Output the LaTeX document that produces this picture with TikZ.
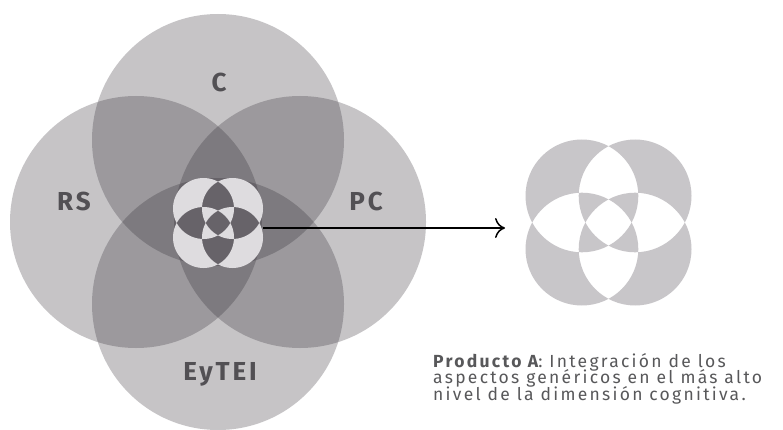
\documentclass[tikz,border=0pt]{standalone}
\usepackage{fontspec}
\setmainfont{Fira Sans}
\newfontfamily\captfont[LetterSpace=13]{Fira Sans}
\newfontfamily\lblfont[LetterSpace=11]{Fira Sans}
\usetikzlibrary{arrows.meta}

\definecolor{petal}{RGB}{45,40,48}
\definecolor{corelight}{RGB}{222,220,223}
\definecolor{prodgray}{RGB}{200,198,201}
\definecolor{lbltext}{RGB}{82,80,84}
\definecolor{capttext}{RGB}{88,88,90}

\tikzset{
  bigpetal/.style={fill=petal,fill opacity=0.27},
  dimlabel/.style={font=\lblfont\bfseries\fontsize{26}{26}\selectfont,text=lbltext,anchor=base,inner sep=0pt},
  capt/.style={font={\captfont\fontsize{17.5}{16.5}\selectfont\lineskiplimit=-20pt},text=capttext,anchor=base west,align=left,inner sep=0pt}
}

\begin{document}
\begin{tikzpicture}[x=1pt,y=1pt]
  \useasboundingbox (0,0) rectangle (783,429);
  \fill[white] (0,0) rectangle (783,429);

  % the four dimensions
  \fill[bigpetal] (218,289) circle (126);
  \fill[bigpetal] (218,125) circle (126);
  \fill[bigpetal] (136,207) circle (126);
  \fill[bigpetal] (300,207) circle (126);

  % core where all four meet
  \fill[corelight,even odd rule]
    (203.5,220.5) circle (30.5) (232.5,220.5) circle (30.5)
    (203.5,191.5) circle (30.5) (232.5,191.5) circle (30.5);

  % product A
  \fill[prodgray,even odd rule]
    (581.9,233.1) circle (56.4) (635.1,233.1) circle (56.4)
    (581.9,179.9) circle (56.4) (635.1,179.9) circle (56.4);

  % labels
  \node[dimlabel] (c) at (219,337) {C};
  \node[dimlabel] (rs) at (74,219) {RS};
  \node[dimlabel] (pc) at (366,219) {PC};
  \node[dimlabel] (eytei) at (220,49) {EyTEI};

  % core -> product
  \coordinate (coreout) at (263,201);
  \coordinate (prodin) at (505,201);
  \draw[line width=1.5pt,-{To[length=10pt,width=20pt]}] (coreout) -- (prodin);

  \node[capt] (prodtext) at (433,29) {{\bfseries Producto A}: Integración de los\\aspectos genéricos en el más alto\\nivel de la dimensión cognitiva.};
\end{tikzpicture}
\end{document}
